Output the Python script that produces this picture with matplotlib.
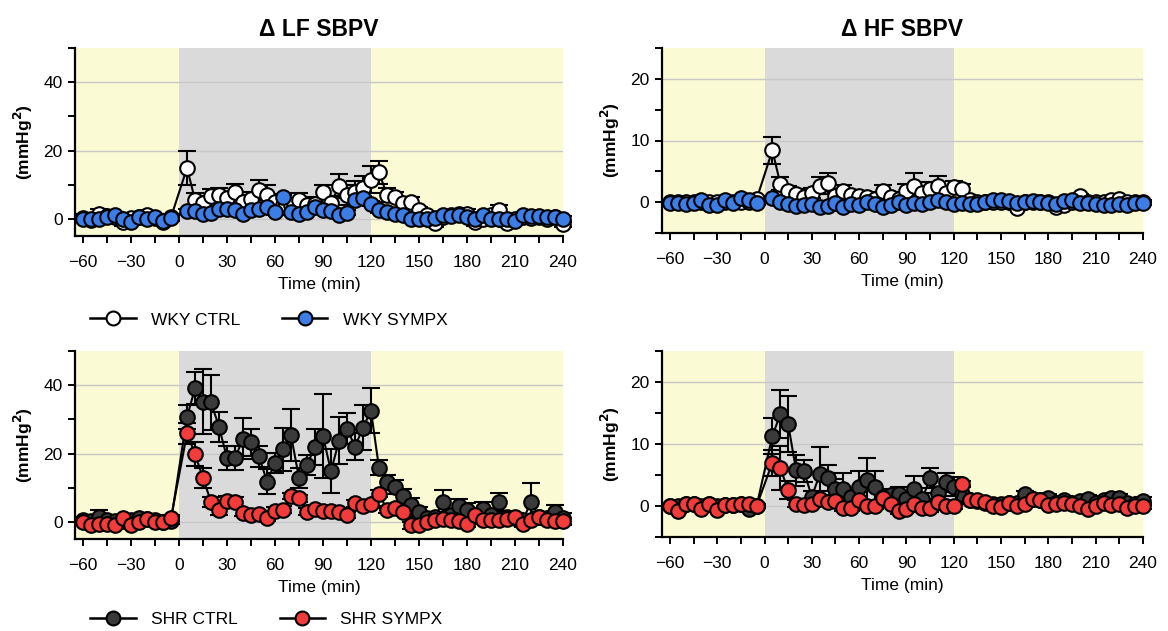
import matplotlib
matplotlib.use("Agg")
import matplotlib.pyplot as plt
from matplotlib.lines import Line2D
from matplotlib.ticker import MultipleLocator

plt.rcParams['font.family'] = ['Liberation Sans', 'DejaVu Sans']

time = list(range(-60, 0, 5)) + list(range(5, 245, 5))

# ---- LF SBPV, WKY ----
lf_wky_ctrl = [0.3, -0.3, 1.5, 0.8, 0.5, -1.0, 0.2, 0.5, 1.0, 0.3, -0.8, 0.5,
               14.9, 5.6, 4.8, 6.8, 7.0, 6.0, 8.0, 5.0, 5.8, 8.5,
               7.0, 5.0, 4.0, 4.0, 5.5, 4.0, 4.5, 8.0, 4.6, 9.5,
               7.0, 8.0, 9.0, 11.5, 13.6, 7.0, 6.4, 4.6, 5.0, 2.6,
               1.0, -1.3, 0.5, 1.0, 1.5, 1.5, -1.0, 0.0, 1.0, 2.5,
               -1.3, 0.0, 0.5, 0.3, 0.5, 0.0, 0.5, -1.5]
lf_wky_ctrl_sem = [1.0, 1.0, 1.5, 1.0, 1.0, 1.0, 1.0, 1.0, 1.0, 1.0, 1.0, 1.0,
                   5.0, 2.0, 2.0, 2.0, 2.0, 2.0, 2.3, 2.0, 2.0, 3.0,
                   3.0, 2.0, 3.0, 2.0, 2.0, 2.0, 2.0, 2.0, 2.0, 3.5,
                   3.0, 3.0, 3.5, 4.0, 3.3, 2.0, 1.5, 1.5, 1.5, 1.0,
                   1.0, 1.0, 1.0, 1.0, 1.5, 1.5, 1.0, 1.0, 1.0, 1.5,
                   1.0, 1.0, 1.0, 1.0, 1.0, 1.0, 1.0, 1.0]
lf_wky_sympx = [0.0, 0.0, 0.0, 0.5, 1.2, 0.0, -0.8, 0.5, 0.0, 0.5, -0.5, 0.3,
                2.2, 2.3, 1.5, 1.8, 3.0, 2.8, 2.5, 1.5, 2.5, 3.0,
                3.5, 2.0, 6.5, 2.0, 1.5, 2.0, 3.5, 2.5, 2.3, 1.0,
                1.8, 5.5, 6.0, 4.5, 2.5, 2.0, 1.5, 1.0, 0.0, 0.0,
                0.0, 0.3, 1.0, 0.8, 1.0, 0.5, 0.0, 1.0, 0.0, 0.0,
                0.0, -0.5, 1.0, 0.8, 0.8, 0.5, 0.5, 0.0]
lf_wky_sympx_sem = [0.8] * 60

# ---- LF SBPV, SHR ----
lf_shr_ctrl = [0.5, 0.3, 1.5, 0.5, 0.3, 0.2, 0.5, 1.0, 0.8, 0.5, 0.0, 0.3,
               30.7, 39.1, 35.2, 35.0, 27.8, 18.7, 18.7, 24.3, 23.3, 19.2,
               11.8, 17.2, 21.2, 25.4, 12.8, 16.7, 22.0, 25.1, 14.8, 23.8,
               27.3, 22.0, 27.6, 32.5, 15.8, 11.8, 10.3, 7.6, 4.9, 3.0,
               1.0, 1.5, 5.9, 2.0, 4.7, 3.4, 2.0, 3.9, 2.0, 5.9,
               1.5, 1.0, 0.5, 5.9, 1.5, 1.0, 3.0, 1.0]
lf_shr_ctrl_sem = [1.0, 1.0, 2.0, 1.0, 1.0, 1.0, 1.0, 1.0, 1.0, 1.0, 1.0, 1.0,
                   3.5, 4.7, 9.5, 8.0, 4.5, 3.5, 3.5, 6.0, 4.0, 3.0,
                   3.6, 3.0, 6.4, 7.6, 3.0, 3.0, 5.3, 12.3, 6.4, 7.0,
                   4.5, 4.0, 6.7, 6.6, 2.2, 2.0, 2.0, 2.0, 2.0, 1.5,
                   1.0, 1.5, 3.3, 1.5, 2.0, 2.0, 1.5, 2.0, 1.5, 2.7,
                   1.5, 1.5, 1.0, 5.6, 1.5, 1.5, 2.0, 1.5]
lf_shr_sympx = [0.0, -1.0, -0.5, -0.5, -1.0, 1.2, -1.0, 0.0, 0.8, 0.0, 0.0, 1.2,
                25.9, 19.9, 12.8, 5.9, 3.4, 6.1, 5.7, 2.7, 2.0, 2.3,
                1.2, 3.3, 3.6, 7.6, 6.9, 3.0, 3.9, 3.3, 3.3, 3.0,
                2.0, 5.4, 4.7, 5.2, 8.2, 3.6, 4.1, 3.0, -1.0, -0.8,
                0.0, 0.5, 0.8, 0.5, 0.2, -0.5, 2.0, 0.5, 0.5, 0.5,
                0.8, 1.5, -0.5, 0.5, 1.5, 0.5, 0.2, 0.2]
lf_shr_sympx_sem = [0.8] * 12 + [3.0, 3.5, 3.0, 1.5, 1.5, 1.5, 1.5] + [1.0] * 41

# ---- HF SBPV, WKY ----
hf_wky_ctrl = [0.0, 0.0, 0.0, 0.0, 0.0, 0.0, 0.0, 0.0, 0.0, 0.0, 0.0, 0.5,
               8.4, 3.0, 1.8, 1.3, 0.8, 1.5, 2.7, 3.1, 1.0, 1.8,
               1.2, 1.0, 0.8, 0.5, 1.8, 0.8, 0.5, 1.8, 2.6, 1.5,
               2.1, 2.7, 1.5, 2.5, 2.1, 0.3, 0.0, 0.0, 0.0, 0.0,
               0.0, -0.9, 0.0, 0.0, 0.0, 0.0, -0.8, -0.5, 0.0, 1.0,
               0.0, 0.0, 0.0, 0.3, 0.5, 0.0, 0.0, 0.0]
hf_wky_ctrl_sem = [0.4] * 12 + [2.2, 1.0, 0.8, 0.8, 0.8, 0.8, 1.3, 1.7, 0.8, 1.0,
                                0.8, 0.8, 0.8, 0.8, 1.0, 0.8, 0.8, 1.2, 2.2, 0.8,
                                1.2, 1.6, 0.8, 1.0, 0.8] + [0.4] * 23
hf_wky_sympx = [-0.2, -0.2, -0.3, -0.2, 0.3, -0.5, -0.5, 0.3, -0.2, 0.6, 0.3, -0.1,
                0.7, 0.0, -0.3, -0.6, -0.5, -0.3, -0.8, -0.6, -0.2, -0.8,
                -0.3, -0.5, 0.0, -0.3, -0.8, -0.4, 0.0, -0.4, -0.1, -0.3,
                0.1, 0.4, 0.0, -0.3, -0.2, -0.3, -0.3, 0.0, 0.3, 0.3,
                0.2, -0.2, 0.1, 0.2, 0.1, -0.2, -0.3, 0.2, 0.3, -0.2,
                -0.2, -0.3, -0.4, -0.5, -0.3, -0.4, -0.1, -0.1]
hf_wky_sympx_sem = [0.3] * 60

# ---- HF SBPV, SHR ----
hf_shr_ctrl = [0.0, 0.0, 0.3, 0.3, 0.0, 0.3, 0.0, 0.2, 0.2, 0.3, -0.5, 0.0,
               11.3, 14.8, 13.2, 5.8, 5.6, 1.5, 5.1, 4.5, 2.8, 2.8,
               1.5, 3.1, 4.2, 3.1, 1.5, 1.8, 2.0, 1.1, 2.8, 1.1,
               4.5, 2.1, 3.8, 3.1, 2.0, 1.0, 0.8, 0.5, 0.3, 0.3,
               0.5, 0.5, 1.9, 1.2, 1.0, 1.3, 0.5, 1.0, 0.5, 0.8,
               1.2, 0.5, 1.0, 1.3, 1.3, 0.5, 0.3, 0.8]
hf_shr_ctrl_sem = [0.4] * 12 + [2.9, 3.9, 4.5, 2.5, 1.8, 1.0, 4.4, 2.1, 1.5, 2.5,
                                1.0, 2.6, 3.5, 2.6, 1.0, 1.0, 1.0, 1.0, 2.0, 1.0,
                                1.6, 1.0, 1.6, 1.5, 1.2] + [0.6] * 23
hf_shr_sympx = [0.0, -0.8, 0.3, 0.3, -0.5, 0.3, -0.6, 0.2, 0.2, 0.3, 0.3, 0.0,
                7.0, 6.1, 2.6, 0.4, 0.2, 0.3, 1.2, 0.6, 0.8, -0.3,
                -0.3, 1.0, 0.0, 0.0, 1.3, 0.3, -0.8, -0.5, 0.4, -0.4,
                -0.4, 0.6, 0.0, 0.0, 3.5, 1.0, 1.0, 0.6, 0.0, -0.2,
                0.5, 0.0, 0.3, 1.2, 1.0, 0.2, 0.3, 0.5, 0.4, 0.0,
                -0.5, 0.0, 0.5, 0.2, 0.3, -0.3, 0.0, 0.0]
hf_shr_sympx_sem = [0.3] * 12 + [2.1, 3.5, 1.5] + [0.5] * 45

yellow = '#FAFAD4'
gray = '#DADADA'
c_white = '#FFFFFF'
c_blue = '#3C7DE6'
c_dark = '#3A3A3A'
c_red = '#F23B3B'

fig = plt.figure(figsize=(11.68, 6.31), dpi=100)

W = 1168.0
H = 631.0
def rect(l, t, r, b):
    return [l / W, 1 - b / H, (r - l) / W, (b - t) / H]

ax_tl = fig.add_axes(rect(75, 48, 563, 236))
ax_tr = fig.add_axes(rect(662, 48, 1143, 233))
ax_bl = fig.add_axes(rect(75, 351, 563, 539))
ax_br = fig.add_axes(rect(662, 351, 1143, 537))

def series(ax, y, sem, face):
    ax.errorbar(time, y, yerr=sem, fmt='-o', color='black', lw=1.5,
                mfc=face, mec='black', mew=1.5, ms=10.5,
                ecolor='black', elinewidth=1.5, capsize=6.5, capthick=1.5,
                clip_on=False, zorder=3)

def style(ax, ylim, major, minor):
    ax.set_facecolor(yellow)
    ax.axvspan(0, 120, color=gray, zorder=0, lw=0)
    ax.set_xlim(-65, 240)
    ax.set_ylim(*ylim)
    ax.set_xticks(range(-60, 241, 30))
    ax.xaxis.set_minor_locator(MultipleLocator(15))
    ax.yaxis.set_major_locator(MultipleLocator(major))
    ax.yaxis.set_minor_locator(MultipleLocator(minor))
    ax.set_axisbelow(True)
    ax.grid(axis='y', which='major', color='#C8C8C8', lw=1.0)
    for s in ['top', 'right']:
        ax.spines[s].set_visible(False)
    for s in ['left', 'bottom']:
        ax.spines[s].set_linewidth(1.6)
    ax.tick_params(which='both', direction='out', width=1.4, labelsize=12.5)
    ax.tick_params(which='major', length=5)
    ax.tick_params(which='minor', length=5)
    ax.tick_params(axis='x', which='major', pad=9)
    ax.tick_params(axis='y', which='major', pad=4)
    ax.set_xlabel('Time (min)', fontsize=12.5, labelpad=5)
    ax.set_ylabel('(mmHg$^{\\mathbf{2}}$)', fontsize=12.5, fontweight='bold', labelpad=6)

style(ax_tl, (-5, 50), 20, 10)
style(ax_bl, (-5, 50), 20, 10)
style(ax_tr, (-5, 25), 10, 5)
style(ax_br, (-5, 25), 10, 5)

series(ax_tl, lf_wky_ctrl, lf_wky_ctrl_sem, c_white)
series(ax_tl, lf_wky_sympx, lf_wky_sympx_sem, c_blue)
series(ax_tr, hf_wky_ctrl, hf_wky_ctrl_sem, c_white)
series(ax_tr, hf_wky_sympx, hf_wky_sympx_sem, c_blue)
series(ax_bl, lf_shr_ctrl, lf_shr_ctrl_sem, c_dark)
series(ax_bl, lf_shr_sympx, lf_shr_sympx_sem, c_red)
series(ax_br, hf_shr_ctrl, hf_shr_ctrl_sem, c_dark)
series(ax_br, hf_shr_sympx, hf_shr_sympx_sem, c_red)

fig.text(319 / W, 1 - 30 / H, '\u0394 LF SBPV', ha='center', va='center',
         fontsize=16.5, fontweight='bold')
fig.text(902 / W, 1 - 30 / H, '\u0394 HF SBPV', ha='center', va='center',
         fontsize=16.5, fontweight='bold')

def legend(labels, faces, y):
    handles = [Line2D([0], [0], color='black', lw=1.8, marker='o', ms=10,
                      mfc=f, mec='black', mew=1.5) for f in faces]
    fig.legend(handles, labels, loc='center left', ncol=2, frameon=False,
               bbox_to_anchor=(0.064, 1 - y / H), fontsize=12.5,
               handlelength=2.6, columnspacing=2.4, handletextpad=0.9)

legend(['WKY CTRL', 'WKY SYMPX'], [c_white, c_blue], 320)
legend(['SHR CTRL', 'SHR SYMPX'], [c_dark, c_red], 619)

fig.savefig('out.png', dpi=100)
